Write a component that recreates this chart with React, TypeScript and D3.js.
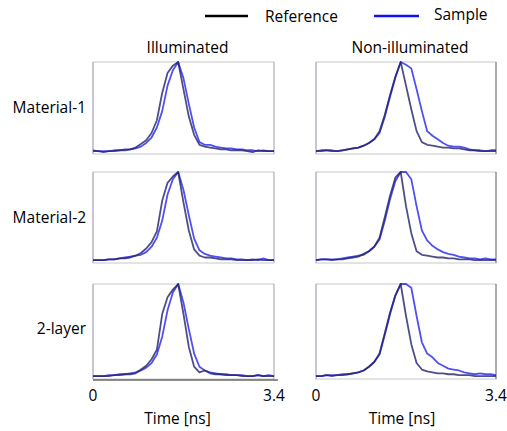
import * as d3 from 'd3';

// time grid in ns (shared by every trace)
const timeNs = [0, 0.1, 0.2, 0.3, 0.4, 0.5, 0.6, 0.7, 0.8, 0.9, 1.0, 1.1, 1.2, 1.3, 1.4, 1.5, 1.6, 1.7,
  1.8, 1.9, 2.0, 2.1, 2.2, 2.3, 2.4, 2.5, 2.6, 2.7, 2.8, 2.9, 3.0, 3.1, 3.2, 3.3, 3.4];

const rowLabels = ['Material-1', 'Material-2', '2-layer'];
const colLabels = ['Illuminated', 'Non-illuminated'];
const xTickLabels = ['0', '3.4'];

// normalised intensity
const illumMat1Ref = [0.02,0.02,0.01,0.02,0.02,0.03,0.03,0.04,0.06,0.10,0.14,0.22,0.36,0.66,0.88,0.96,1.0,0.70,0.40,0.20,0.09,0.07,0.06,0.05,0.04,0.04,0.03,0.03,0.03,0.02,0.01,0.03,0.02,0.02,0.02];
const illumMat1Sample = [0.03,0.02,0.02,0.02,0.03,0.03,0.04,0.04,0.05,0.07,0.11,0.17,0.28,0.46,0.74,0.91,1.0,0.82,0.54,0.28,0.12,0.09,0.09,0.07,0.06,0.05,0.05,0.04,0.04,0.03,0.03,0.02,0.03,0.02,0.02];
const illumMat2Ref = [0.02,0.02,0.02,0.03,0.03,0.04,0.04,0.05,0.07,0.10,0.15,0.22,0.34,0.68,0.88,0.95,1.0,0.66,0.35,0.14,0.07,0.05,0.05,0.04,0.03,0.03,0.03,0.02,0.02,0.02,0.02,0.03,0.02,0.02,0.02];
const illumMat2Sample = [0.02,0.02,0.02,0.03,0.03,0.04,0.05,0.06,0.07,0.08,0.11,0.17,0.27,0.46,0.75,0.92,1.0,0.80,0.52,0.26,0.13,0.09,0.07,0.06,0.05,0.04,0.04,0.03,0.03,0.02,0.03,0.02,0.04,0.02,0.02];
const illum2LayerRef = [0.02,0.02,0.02,0.02,0.03,0.03,0.04,0.04,0.05,0.09,0.13,0.20,0.30,0.68,0.86,0.94,1.0,0.68,0.33,0.12,0.06,0.08,0.05,0.04,0.04,0.03,0.03,0.03,0.02,0.02,0.02,0.03,0.02,0.02,0.02];
const illum2LayerSample = [0.02,0.02,0.02,0.03,0.03,0.04,0.04,0.05,0.06,0.08,0.11,0.16,0.25,0.44,0.72,0.91,1.0,0.80,0.52,0.26,0.12,0.08,0.06,0.05,0.04,0.04,0.03,0.03,0.03,0.02,0.02,0.03,0.02,0.03,0.02];
const nonIllumMat1Ref = [0.02,0.03,0.03,0.02,0.02,0.03,0.04,0.05,0.06,0.08,0.11,0.15,0.24,0.42,0.64,0.84,1.0,0.74,0.48,0.24,0.12,0.09,0.08,0.07,0.06,0.06,0.05,0.05,0.04,0.03,0.03,0.02,0.02,0.02,0.02];
const nonIllumMat1Sample = [0.02,0.02,0.03,0.03,0.02,0.03,0.04,0.05,0.06,0.08,0.11,0.15,0.22,0.40,0.62,0.83,1.0,0.97,0.93,0.70,0.46,0.24,0.19,0.15,0.11,0.08,0.07,0.07,0.06,0.04,0.03,0.03,0.02,0.03,0.03];
const nonIllumMat2Ref = [0.02,0.03,0.03,0.02,0.03,0.03,0.04,0.05,0.06,0.09,0.12,0.17,0.27,0.50,0.74,0.94,1.0,0.62,0.32,0.12,0.08,0.07,0.06,0.05,0.05,0.04,0.04,0.03,0.03,0.03,0.02,0.02,0.02,0.02,0.02];
const nonIllumMat2Sample = [0.02,0.03,0.03,0.03,0.03,0.04,0.05,0.06,0.07,0.08,0.12,0.17,0.25,0.46,0.70,0.90,1.0,1.0,0.92,0.62,0.35,0.24,0.18,0.14,0.11,0.09,0.08,0.06,0.05,0.04,0.04,0.03,0.04,0.03,0.03];
const nonIllum2LayerRef = [0.02,0.02,0.03,0.02,0.03,0.03,0.04,0.05,0.06,0.08,0.12,0.17,0.26,0.48,0.70,0.88,1.0,0.66,0.36,0.16,0.09,0.07,0.06,0.05,0.05,0.04,0.04,0.03,0.03,0.03,0.02,0.02,0.02,0.02,0.02];
const nonIllum2LayerSample = [0.02,0.02,0.03,0.03,0.03,0.04,0.04,0.05,0.06,0.08,0.12,0.17,0.25,0.46,0.68,0.88,1.0,1.0,0.96,0.66,0.38,0.26,0.22,0.16,0.13,0.10,0.09,0.08,0.06,0.05,0.04,0.05,0.04,0.04,0.03];

// [row][col] -> [reference, sample]
const panels = [
  [[illumMat1Ref, illumMat1Sample], [nonIllumMat1Ref, nonIllumMat1Sample]],
  [[illumMat2Ref, illumMat2Sample], [nonIllumMat2Ref, nonIllumMat2Sample]],
  [[illum2LayerRef, illum2LayerSample], [nonIllum2LayerRef, nonIllum2LayerSample]],
];

const W = 507;
const H = 431;
const FONT = "'Open Sans', 'Noto Sans', sans-serif";
const FS = 15.5;
const REF_COLOR = '#22226a';
const SAMPLE_COLOR = '#2424f0';

const colX = [[93, 274], [316, 496]];
const rowY = [[62, 154], [172, 263], [284, 379]];

export default function App() {
  return (
    <svg width={W} height={H} style={{ position: 'absolute', left: 0, top: 0, background: '#fff' }}
      fontFamily={FONT}>
      {/* legend */}
      <line x1={205} x2={248} y1={16} y2={16} stroke="#000" strokeWidth={2.5} />
      <text x={265} y={22} fontSize={FS}>Reference</text>
      <line x1={374} x2={419} y1={16} y2={16} stroke="#1010f0" strokeWidth={2.5} />
      <text x={434} y={20} fontSize={FS}>Sample</text>

      {colLabels.map((c, ci) => (
        <text key={c} x={(colX[ci][0] + colX[ci][1]) / 2 + 4} y={53} textAnchor="middle" fontSize={FS}>{c}</text>
      ))}
      {rowLabels.map((r, ri) => (
        <text key={r} x={86} y={ri === 2 ? 334 : (rowY[ri][0] + rowY[ri][1]) / 2 + 5} textAnchor="end" fontSize={FS}>{r}</text>
      ))}

      {panels.map((row, ri) => row.map((series, ci) => {
        const x = d3.scaleLinear().domain([0, 3.4]).range(colX[ci]);
        const y = d3.scaleLinear().domain([0, 1]).range([rowY[ri][1] - 1, rowY[ri][0]]);
        const line = d3.line<number>().x((_, i) => x(timeNs[i])).y(v => y(v));
        const [x0, x1] = colX[ci];
        const [y0, y1] = rowY[ri];
        return (
          <g key={`${ri}-${ci}`}>
            <rect x={x0} y={y0} width={x1 - x0} height={y1 - y0} fill="#fff" stroke="#c8c8c8" strokeWidth={1} />
            <line x1={x1} x2={x1} y1={y0} y2={y1} stroke={ci === 1 ? '#777' : '#bbb'} strokeWidth={1} />
            <line x1={x0} x2={x0} y1={y0} y2={y1} stroke="#9a8fc0" strokeWidth={1} opacity={0.7} />
            {ri === 2 && ci === 0 && <line x1={x0} x2={x1 + 4} y1={y1 + 1} y2={y1 + 1} stroke="#222" strokeWidth={1.2} />}
            <path d={line(series[1]) ?? ''} fill="none" stroke={SAMPLE_COLOR} strokeWidth={1.8} strokeOpacity={0.8} strokeLinejoin="round" />
            <path d={line(series[0]) ?? ''} fill="none" stroke={REF_COLOR} strokeWidth={1.8} strokeOpacity={0.8} strokeLinejoin="round" />
            {ri === 2 && xTickLabels.map((t) => (
              <text key={t} x={x(+t)} y={401} textAnchor="middle" fontSize={FS}>{t}</text>
            ))}
            {ri === 2 && (
              <text x={(x0 + x1) / 2 - 6 + ci * 2} y={424} textAnchor="middle" fontSize={FS}>Time [ns]</text>
            )}
          </g>
        );
      }))}
    </svg>
  );
}
